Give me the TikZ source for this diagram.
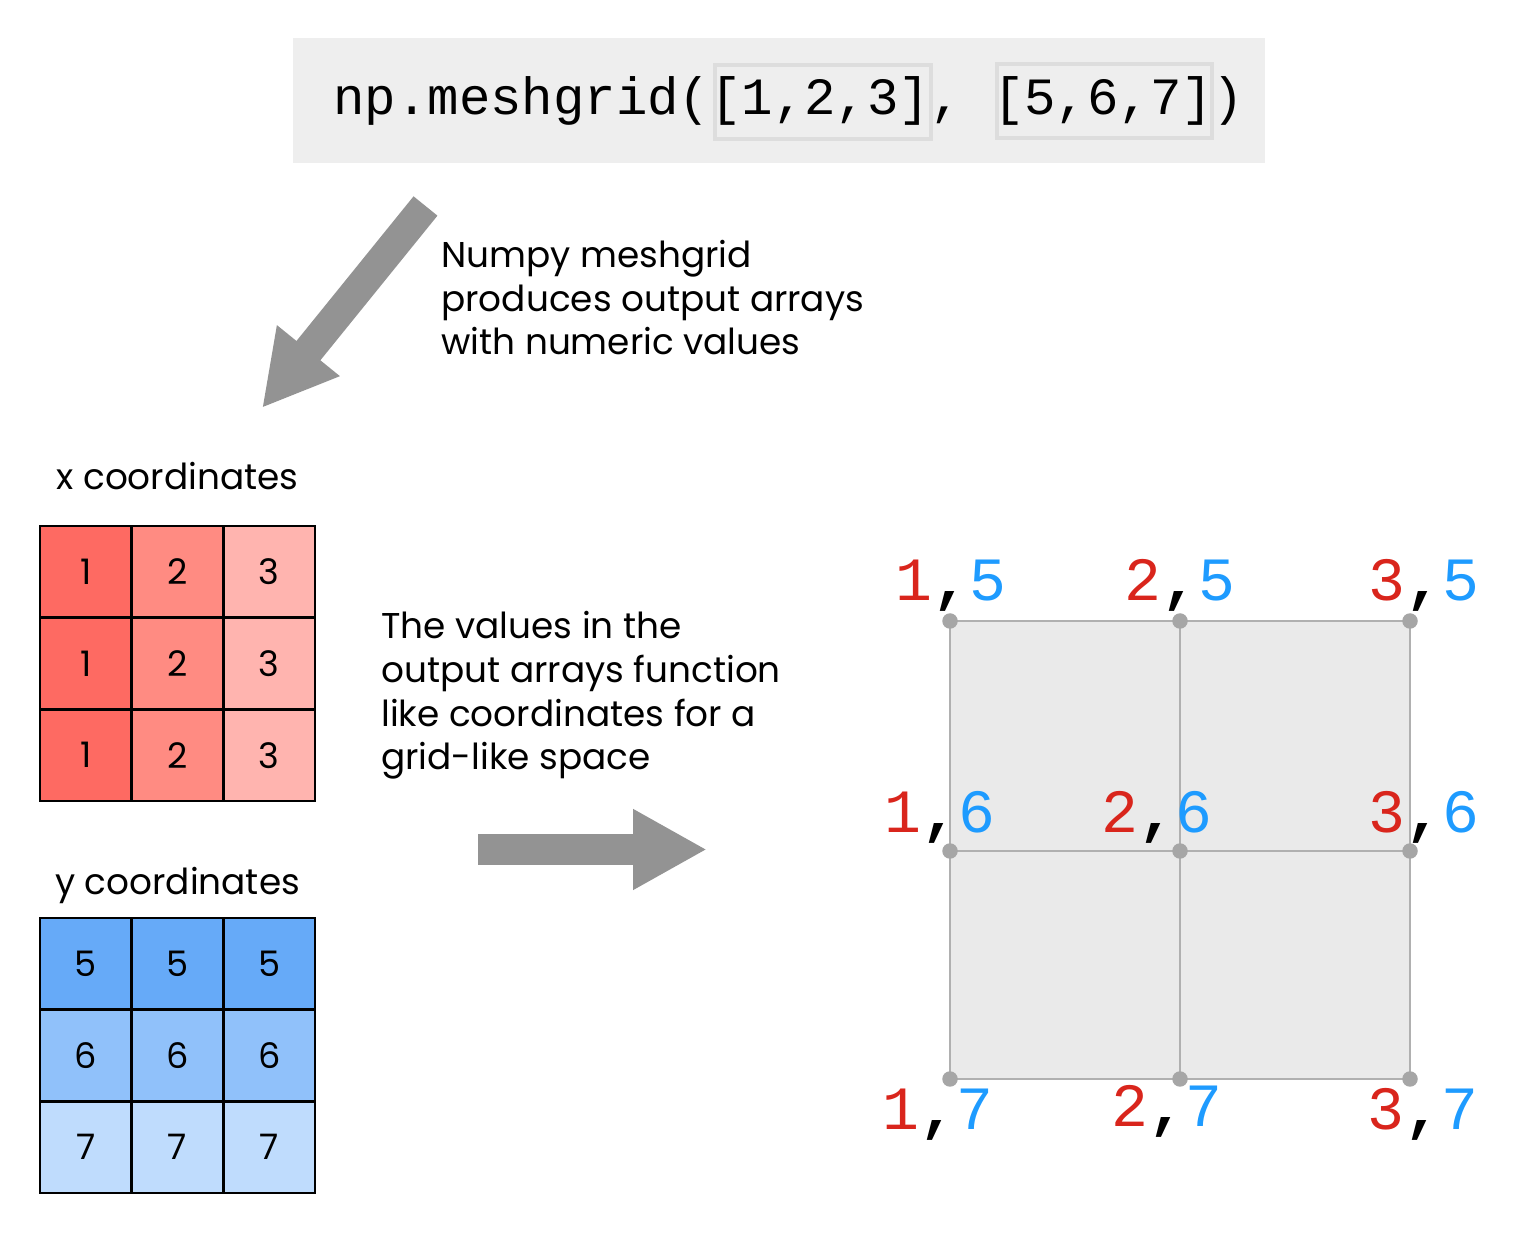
\documentclass[tikz,border=0pt]{standalone}
\usepackage{fontspec}
\setmainfont{Poppins}
\setmonofont{Liberation Mono}
\usepackage{xcolor}
\usetikzlibrary{arrows.meta,positioning}

\definecolor{codebg}{HTML}{EEEEEE}
\definecolor{codebox}{HTML}{DDDDDD}
\definecolor{arrowgray}{HTML}{939393}
\definecolor{xone}{HTML}{FE6A62}
\definecolor{xtwo}{HTML}{FF8B82}
\definecolor{xthree}{HTML}{FFB4AF}
\definecolor{yone}{HTML}{66AAF8}
\definecolor{ytwo}{HTML}{90C1FA}
\definecolor{ythree}{HTML}{BFDCFD}
\definecolor{gridfill}{HTML}{EAEAEA}
\definecolor{gridline}{HTML}{B0B0B0}
\definecolor{dotgray}{HTML}{A6A6A6}
\definecolor{xred}{HTML}{D9251C}
\definecolor{yblue}{HTML}{1E9BFF}

\newcommand{\pairlabel}[2]{{\color{xred}#1}{\bfseries,}{\color{yblue}#2}}

\begin{document}
\begin{tikzpicture}[x=0.02cm, y=-0.02cm,
    txt/.style={inner sep=0pt, font=\fontsize{20.4}{24.9}\selectfont},
    cell/.style={draw=black, line width=1.4pt, minimum size=1.834cm, inner sep=0pt, font=\fontsize{20}{20}\selectfont},
    bigarrow/.style={arrowgray, line width=17.5pt, -{Triangle[width=0pt 2.45, length=0pt 2.4]}},
    pair/.style={inner sep=0pt, anchor=base, font=\ttfamily\fontsize{35}{35}\selectfont},
    dot/.style={circle, fill=dotgray, inner sep=0pt, minimum size=0.31cm}]
    \useasboundingbox (0,0) rectangle (1516,1236);

    % function call
    \node[fill=codebg, minimum width=19.44cm, minimum height=2.5cm, inner sep=0pt] (code) at (779,100.5) {};
    \draw[codebox, line width=2.2pt] (715,65) rectangle (931,139);
    \draw[codebox, line width=2.2pt] (997,64) rectangle (1212,138);
    \node[anchor=base west, inner sep=0pt, font=\ttfamily\fontsize{29.8}{30}\selectfont] (call) at (333,115) {np.meshgrid([1,2,3], [5,6,7])};

    % first arrow
    \coordinate (startA) at (425.5,206);
    \coordinate (endA) at (262,408);
    \draw[bigarrow] (startA) -- (endA);
    \node[txt, anchor=base west, align=left] (note) at (441,355) {Numpy meshgrid\\produces output arrays\\with numeric values};

    % x coordinates
    \node[txt, anchor=base] (xlabel) at (177.5,490) {x coordinates};
    \foreach \c/\col in {1/xone, 2/xtwo, 3/xthree}
        \foreach \r in {1,2,3}
            \node[cell, fill=\col] (x\r\c) at ({40+91.7*(\c-0.5)},{526+91.7*(\r-0.5)}) {\c};

    % y coordinates
    \node[txt, anchor=base] (ylabel) at (177.5,895) {y coordinates};
    \foreach \r/\v/\col in {1/5/yone, 2/6/ytwo, 3/7/ythree}
        \foreach \c in {1,2,3}
            \node[cell, fill=\col] (y\r\c) at ({40+91.7*(\c-0.5)},{918+91.7*(\r-0.5)}) {\v};

    % second arrow
    \node[txt, anchor=base west, align=left] (explain) at (381,770) {The values in the\\output arrays function\\like coordinates for a\\grid-like space};
    \coordinate (startB) at (478,849.5);
    \coordinate (endB) at (707,849.5);
    \draw[bigarrow] (startB) -- (endB);

    % coordinate grid
    \foreach \r/\yv in {1/621, 2/851, 3/1079}
        \foreach \c/\xv in {1/950, 2/1180, 3/1410}
            \coordinate (g\r\c) at (\xv,\yv);
    \fill[gridfill] (g11) rectangle (g33);
    \draw[gridline, line width=1.1pt] (g11) rectangle (g33);
    \draw[gridline, line width=1.1pt] (g12) -- (g32);
    \draw[gridline, line width=1.1pt] (g21) -- (g23);
    \foreach \r in {1,2,3}
        \foreach \c in {1,2,3}
            \node[dot] (d\r\c) at (g\r\c) {};

    % pair labels
    \foreach \r/\c/\xv/\yv/\a/\b in {1/1/951/601/1/5, 1/2/1180/601/2/5, 1/3/1424/601/3/5,
                                     2/1/940/833/1/6, 2/2/1157/833/2/6, 2/3/1424/833/3/6,
                                     3/1/938/1129/1/7, 3/2/1167/1126/2/7, 3/3/1423/1129/3/7}
        \node[pair] (p\r\c) at (\xv,\yv) {\pairlabel{\a}{\b}};
\end{tikzpicture}
\end{document}
